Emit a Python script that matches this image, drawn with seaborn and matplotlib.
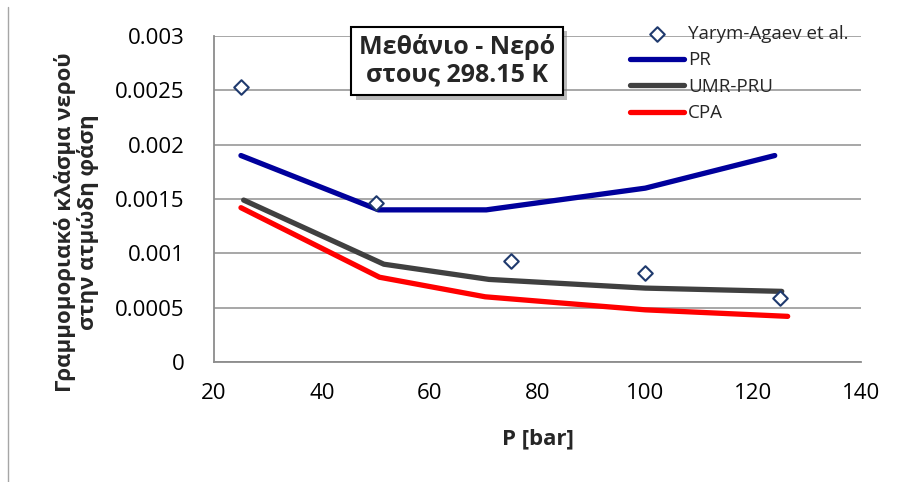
"""
Methane - water: water mole fraction in the vapour phase at 298.15 K
Experimental points (Yarym-Agaev et al.) vs PR, UMR-PRU and CPA
"""

import matplotlib
matplotlib.use("Agg")
import matplotlib.pyplot as plt
import matplotlib.patheffects as pe
import seaborn as sns
import pandas as pd

sns.set_style("white")
plt.rcParams['font.family'] = ['Open Sans', 'DejaVu Sans']

# experimental data
P_exp = [25, 50, 75, 100, 125]
y_exp = [0.00253, 0.00146, 0.00093, 0.00082, 0.00059]

# model curves
P_pr = [25, 50.5, 70.5, 100, 124]
y_pr = [0.0019, 0.0014, 0.0014, 0.0016, 0.0019]

P_umr = [25.5, 51.5, 71, 100, 125.3]
y_umr = [0.00149, 0.0009, 0.00076, 0.00068, 0.00065]

P_cpa = [25, 50.7, 70.3, 100, 126.4]
y_cpa = [0.00142, 0.00078, 0.0006, 0.00048, 0.00042]

x_ticks = [20, 40, 60, 80, 100, 120, 140]
y_ticks = [0, 0.0005, 0.001, 0.0015, 0.002, 0.0025, 0.003]
y_tick_labels = ['0', '0.0005', '0.001', '0.0015', '0.002', '0.0025', '0.003']

MODEL_COLORS = {
    'PR': '#00009C',
    'UMR-PRU': '#404040',
    'CPA': '#FF0000',
}

fig = plt.figure(figsize=(8.97, 4.82), dpi=100)
ax = fig.add_axes([214 / 897, 1 - 362 / 482, 647 / 897, 326 / 482])

df_exp = pd.DataFrame({'P': P_exp, 'y': y_exp})
sns.scatterplot(data=df_exp, x='P', y='y', marker='D', s=55,
                facecolor='white', edgecolor='#1F3A6E', linewidth=1.5,
                label='Yarym-Agaev et al.', ax=ax, zorder=5)

for name, xs, ys in [('PR', P_pr, y_pr), ('UMR-PRU', P_umr, y_umr), ('CPA', P_cpa, y_cpa)]:
    d = pd.DataFrame({'P': xs, 'y': ys})
    sns.lineplot(data=d, x='P', y='y', sort=False, estimator=None,
                 color=MODEL_COLORS[name], linewidth=3.8, label=name,
                 solid_capstyle='round', solid_joinstyle='round', ax=ax, zorder=3)

ax.set_xlim(20, 140)
ax.set_ylim(0, 0.003)
ax.set_xticks(x_ticks)
ax.set_yticks(y_ticks)
ax.set_yticklabels(y_tick_labels)
ax.tick_params(axis='both', labelsize=16, colors='#8C8C8C', labelcolor='black',
               direction='out', length=6, width=1.3)
ax.tick_params(axis='y', length=8, pad=13)
ax.tick_params(axis='x', pad=9)
ax.grid(axis='y', color='#A0A0A0', linewidth=1.3)
ax.set_axisbelow(True)
for side in ['top', 'right']:
    ax.spines[side].set_visible(False)
for side in ['left', 'bottom']:
    ax.spines[side].set_color('#8C8C8C')
    ax.spines[side].set_linewidth(1.3)

ax.set_xlabel('P [bar]', fontsize=16, fontweight='bold', labelpad=18)
ax.set_ylabel('Γραμμομοριακό κλάσμα νερού\nστην ατμώδη φάση', fontsize=16,
              fontweight='bold', labelpad=12, linespacing=1.05, y=0.43)

ax.legend(loc='upper left', bbox_to_anchor=(630 / 897, 1 - 25 / 482),
          bbox_transform=fig.transFigure, frameon=False, fontsize=13.5,
          handlelength=2.9, handletextpad=0.2, labelspacing=0.45,
          borderpad=0, borderaxespad=0)

title = ax.text(457 / 897, 1 - 61 / 482, 'Μεθάνιο - Νερό\nστους 298.15 K',
                transform=fig.transFigure, ha='center', va='center',
                fontsize=18, fontweight='bold', linespacing=1.15, zorder=10,
                bbox=dict(boxstyle='square,pad=0.3', facecolor='white',
                          edgecolor='black', linewidth=1.5))
title.get_bbox_patch().set_path_effects([
    pe.SimplePatchShadow(offset=(3, -3), shadow_rgbFace='#777777', alpha=0.5),
    pe.Normal()])

# thin frame line on the left edge
fig.add_artist(plt.Line2D([8 / 897, 8 / 897], [0, 1 - 7 / 482],
                          transform=fig.transFigure, color='#A6A6A6', linewidth=1))

fig.savefig('out.png', dpi=100, facecolor='white')
